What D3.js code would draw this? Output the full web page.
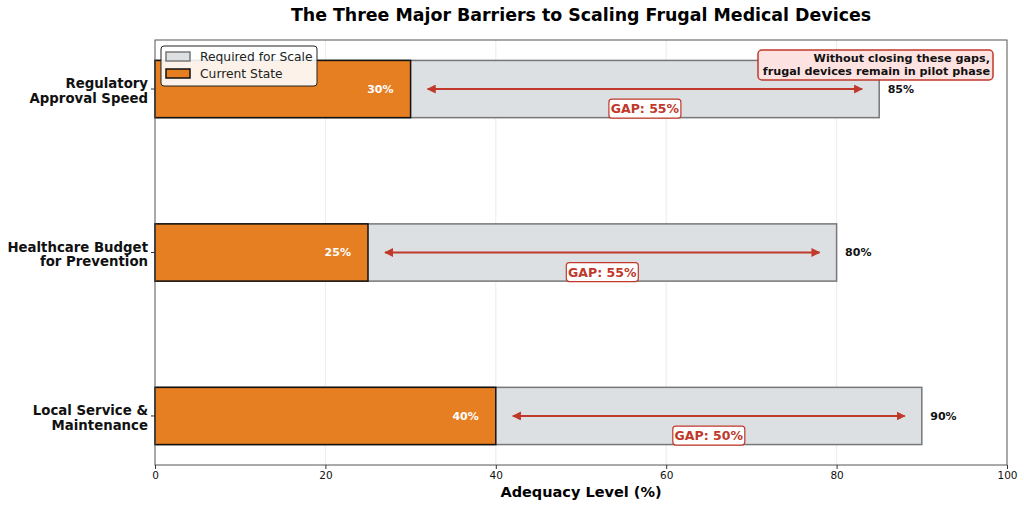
<!DOCTYPE html>
<html>
<head>
<meta charset="utf-8">
<script src="https://cdn.jsdelivr.net/npm/d3@7"></script>
<style>
  body { margin: 0; background: #fff; }
  text { font-family: "DejaVu Sans", sans-serif; }
</style>
</head>
<body>
<script>
// data
var categories = ["Regulatory\nApproval Speed", "Healthcare Budget\nfor Prevention", "Local Service &\nMaintenance"];
var current = [30, 25, 40];
var required = [85, 80, 90];
var xTicks = [0, 20, 40, 60, 80, 100];

var W = 1024, H = 507;
var svg = d3.select("body").append("svg")
    .attr("width", W)
    .attr("height", H);

var x = d3.scaleLinear().domain([0, 100]).range([155, 1007]);
// matplotlib style: first category at top
var y = d3.scaleLinear().domain([-0.3, 2.3]).range([465, 40]);
var barH = 0.35;
var pos = function(i) { return categories.length - 1 - i; };

var orange = "#E67E22", grey = "#DDE0E3", red = "#C0392B";

// grid
svg.append("g").selectAll("line")
    .data(xTicks.slice(1, -1))
    .enter().append("line")
    .attr("x1", d => x(d)).attr("x2", d => x(d))
    .attr("y1", y(2.3)).attr("y2", y(-0.3))
    .attr("stroke", "#e6e6e6").attr("stroke-width", 0.8);

// required bars
svg.append("g").selectAll("rect")
    .data(required)
    .enter().append("rect")
    .attr("x", x(0))
    .attr("y", (d, i) => y(pos(i) + barH / 2))
    .attr("width", d => x(d) - x(0))
    .attr("height", y(0) - y(barH))
    .attr("fill", grey)
    .attr("stroke", "#777").attr("stroke-width", 1.5);

// current bars
svg.append("g").selectAll("rect")
    .data(current)
    .enter().append("rect")
    .attr("x", x(0))
    .attr("y", (d, i) => y(pos(i) + barH / 2))
    .attr("width", d => x(d) - x(0))
    .attr("height", y(0) - y(barH))
    .attr("fill", orange)
    .attr("stroke", "#111").attr("stroke-width", 1.5);

// value labels
svg.append("g").selectAll("text")
    .data(current)
    .enter().append("text")
    .attr("x", d => x(d - 2))
    .attr("y", (d, i) => y(pos(i)))
    .attr("dy", "0.35em")
    .attr("text-anchor", "end")
    .attr("fill", "#fff").attr("font-weight", "bold").attr("font-size", 11)
    .text(d => d + "%");

svg.append("g").selectAll("text")
    .data(required)
    .enter().append("text")
    .attr("x", d => x(d + 1))
    .attr("y", (d, i) => y(pos(i)))
    .attr("dy", "0.35em")
    .attr("fill", "#111").attr("font-weight", "bold").attr("font-size", 11)
    .text(d => d + "%");

// gap arrows
var defs = svg.append("defs");
defs.append("marker").attr("id", "ah").attr("viewBox", "0 0 10 10")
    .attr("refX", 9).attr("refY", 5)
    .attr("markerWidth", 4.5).attr("markerHeight", 4.5)
    .attr("orient", "auto-start-reverse")
    .append("path").attr("d", "M0,0 L10,5 L0,10 z").attr("fill", red);

svg.append("g").selectAll("line")
    .data(current)
    .enter().append("line")
    .attr("x1", (d, i) => x(d + 2))
    .attr("x2", (d, i) => x(required[i] - 2))
    .attr("y1", (d, i) => y(pos(i)))
    .attr("y2", (d, i) => y(pos(i)))
    .attr("stroke", red).attr("stroke-width", 2)
    .attr("marker-start", "url(#ah)").attr("marker-end", "url(#ah)");

// gap labels
var gapG = svg.append("g").selectAll("g")
    .data(current)
    .enter().append("g")
    .attr("transform", (d, i) => "translate(" + x((d + required[i]) / 2) + "," + y(pos(i) - 0.12) + ")");
gapG.append("rect")
    .attr("x", -36).attr("y", -9.5).attr("width", 72).attr("height", 19)
    .attr("rx", 3)
    .attr("fill", "#fff").attr("stroke", red).attr("stroke-width", 1.2);
gapG.append("text")
    .attr("text-anchor", "middle").attr("dy", "0.36em")
    .attr("fill", red).attr("font-weight", "bold").attr("font-size", 12.5)
    .text((d, i) => "GAP: " + (required[i] - d) + "%");

// frame
svg.append("rect")
    .attr("x", x(0)).attr("y", y(2.3))
    .attr("width", x(100) - x(0)).attr("height", y(-0.3) - y(2.3))
    .attr("fill", "none").attr("stroke", "#555").attr("stroke-width", 1);

// x axis
var xAxis = svg.append("g")
    .attr("transform", "translate(0," + y(-0.3) + ")")
    .call(d3.axisBottom(x).tickValues(xTicks).tickSize(4).tickPadding(3));
xAxis.select(".domain").remove();
xAxis.selectAll("text").attr("font-size", 10.5).attr("font-family", "DejaVu Sans").attr("fill", "#111");
xAxis.selectAll("line").attr("stroke", "#333");

svg.append("text")
    .attr("x", (x(0) + x(100)) / 2).attr("y", 497)
    .attr("text-anchor", "middle")
    .attr("font-weight", "bold").attr("font-size", 14.5)
    .text("Adequacy Level (%)");

// y labels
var yl = svg.append("g").selectAll("text")
    .data(categories)
    .enter().append("text")
    .attr("x", 148)
    .attr("y", (d, i) => y(pos(i)))
    .attr("text-anchor", "end")
    .attr("font-weight", "bold").attr("font-size", 13.3)
    .attr("fill", "#111");
yl.selectAll("tspan")
    .data(d => d.split("\n"))
    .enter().append("tspan")
    .attr("x", 148)
    .attr("dy", (d, i) => i === 0 ? "-0.05em" : "1.1em")
    .text(d => d);
svg.append("g").selectAll("line")
    .data(categories)
    .enter().append("line")
    .attr("x1", x(0) - 4).attr("x2", x(0))
    .attr("y1", (d, i) => y(pos(i))).attr("y2", (d, i) => y(pos(i)))
    .attr("stroke", "#333");

// title
svg.append("text")
    .attr("x", 581).attr("y", 21)
    .attr("text-anchor", "middle")
    .attr("font-weight", "bold").attr("font-size", 17.4)
    .text("The Three Major Barriers to Scaling Frugal Medical Devices");

// legend
var lg = svg.append("g").attr("transform", "translate(161,46)");
lg.append("rect").attr("width", 156).attr("height", 40).attr("rx", 3)
    .attr("fill", "#fff").attr("fill-opacity", 0.9)
    .attr("stroke", "#222").attr("stroke-width", 1);
var legendItems = [
  {label: "Required for Scale", fill: grey, stroke: "#777"},
  {label: "Current State", fill: orange, stroke: "#111"}
];
legendItems.forEach(function(it, i) {
  lg.append("rect").attr("x", 5).attr("y", 6 + i * 17).attr("width", 24).attr("height", 9)
    .attr("fill", it.fill).attr("stroke", it.stroke).attr("stroke-width", 1.5);
  lg.append("text").attr("x", 39).attr("y", 11 + i * 17).attr("dy", "0.35em")
    .attr("font-size", 12.3).attr("fill", "#222").text(it.label);
});

// note box
var note = svg.append("g");
note.append("rect")
    .attr("x", 758).attr("y", 50).attr("width", 235).attr("height", 30).attr("rx", 4)
    .attr("fill", "#FDE2E2").attr("stroke", red).attr("stroke-width", 1.5);
note.append("text")
    .attr("text-anchor", "end").attr("font-weight", "bold").attr("font-size", 11.2).attr("fill", "#111")
    .selectAll("tspan")
    .data(["Without closing these gaps,", "frugal devices remain in pilot phase"])
    .enter().append("tspan")
    .attr("x", 990)
    .attr("y", (d, i) => 62 + i * 12.5)
    .text(d => d);
</script>
</body>
</html>
